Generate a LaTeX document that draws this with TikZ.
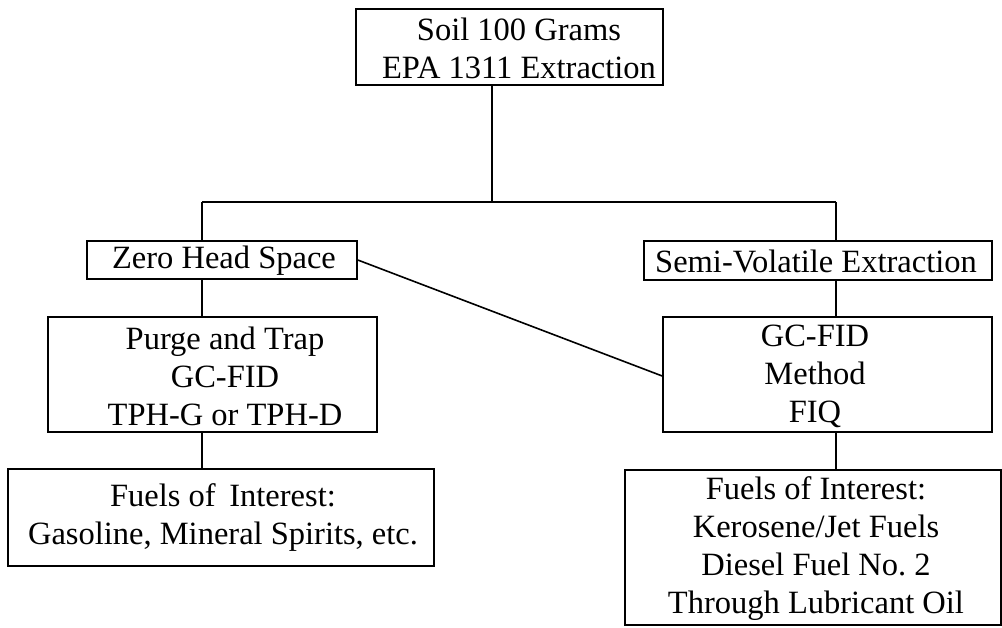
\documentclass[tikz,border=0pt]{standalone}
\usepackage{fontspec}
\setmainfont{Liberation Serif}
\frenchspacing
\begin{document}
\begin{tikzpicture}[x=1pt,y=-1pt,
  box/.style={draw, line width=1.6pt, rectangle, inner sep=0pt, minimum width=#1},
  txt/.style={align=center, inner sep=0pt, font=\fontsize{32.5}{38}\selectfont},
  link/.style={line width=1.6pt}]
\useasboundingbox (0,0) rectangle (1002,627);

% boxes (centre, width x height)
\node[box=307pt, minimum height=76pt] (soil) at (509.5,47) {};
\node[box=270pt, minimum height=38pt] (zhs)  at (222,260) {};
\node[box=329pt, minimum height=115pt] (purge) at (212.5,374.5) {};
\node[box=426pt, minimum height=97pt] (fuelsL) at (221,517.5) {};
\node[box=348pt, minimum height=39pt] (svx)  at (818,260.5) {};
\node[box=329pt, minimum height=115pt] (gcfid) at (827.5,374.5) {};
\node[box=376pt, minimum height=155pt] (fuelsR) at (813,547.5) {};

% texts
\node[txt] (tsoil)  at (519,48)  {Soil 100 Grams\\EPA 1311 Extraction};
\node[txt] (tzhs)   at (224,261) {Zero Head Space};
\node[txt] (tpurge) at (225,376) {Purge and Trap\\GC-FID\\TPH-G or TPH-D};
\node[txt] (tfuelsL) at (223,518) {Fuels of\, Interest:\\Gasoline, Mineral Spirits, etc.};
\node[txt] (tsvx)   at (816,261) {Semi-Volatile Extraction};
\node[txt] (tgcfid) at (815,376) {GC-FID\\Method\\FIQ};
\node[txt] (tfuelsR) at (816,549) {Fuels of Interest:\\Kerosene/Jet Fuels\\Diesel Fuel No. 2\\Through Lubricant Oil};

% branch columns
\coordinate (mid) at (492,202);
\coordinate (colL) at (202,202);
\coordinate (colR) at (836,202);

% connectors
\draw[link] (soil.south -| mid) -- (mid);
\draw[link] (colL) -- (colR);
\draw[link] (colL) -- (zhs.north -| colL);
\draw[link] (colR) -- (svx.north -| colR);
\draw[link] (zhs.south -| colL) -- (purge.north -| colL);
\draw[link] (purge.south -| colL) -- (fuelsL.north -| colL);
\draw[link] (svx.south -| colR) -- (gcfid.north -| colR);
\draw[link] (gcfid.south -| colR) -- (fuelsR.north -| colR);
\draw[link] (zhs.east) -- ([yshift=-1.5pt]gcfid.west);
\end{tikzpicture}
\end{document}
